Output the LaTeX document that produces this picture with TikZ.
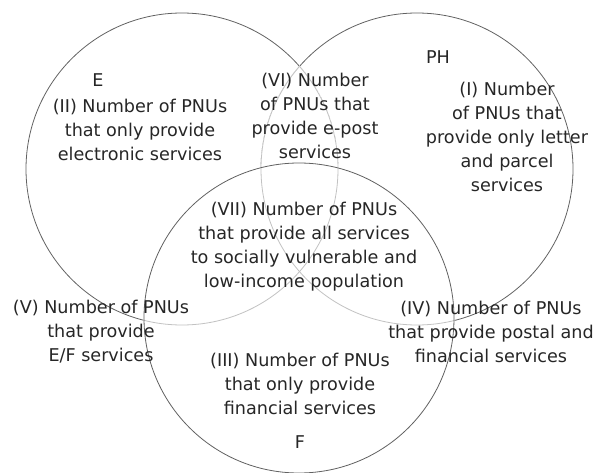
\documentclass[tikz,border=0pt]{standalone}
\usepackage{fontspec}
\setmainfont{DejaVu Sans}

\begin{document}
\begin{tikzpicture}[x=1pt, y=-1pt,
    ring/.style={draw=black!62, line width=0.8pt},
    faint/.style={draw=black!24, line width=0.8pt},
    lbl/.style={align=center, inner sep=0pt, text=black!85,
        font=\fontsize{17.6}{24}\selectfont}]
    \useasboundingbox (0,0) rectangle (602,473);

    % Define the centres of the three sets
    \coordinate (E)  at (182,169);
    \coordinate (PH) at (417,169);
    \coordinate (F)  at (299,318);

    % Draw the circles for E and PH
    \draw[ring] (E)  circle[radius=156pt];
    \draw[ring] (PH) circle[radius=156pt];

    % Fade both arcs inside the E/PH overlap
    \begin{scope}
        \clip (E)  circle[radius=156.6pt];
        \clip (PH) circle[radius=156.6pt];
        \fill[white] (0,0) rectangle (602,473);
        \draw[faint] (E)  circle[radius=156pt];
        \draw[faint] (PH) circle[radius=156pt];
    \end{scope}

    % F goes on top, fading what lies under it
    \fill[white] (F) circle[radius=155.6pt];
    \begin{scope}
        \clip (F) circle[radius=155.6pt];
        \draw[faint] (E)  circle[radius=156pt];
        \draw[faint] (PH) circle[radius=156pt];
    \end{scope}
    \draw[ring] (F) circle[radius=155pt];

    % Set names
    \node[lbl] (nameE)  at (98,80)   {E};
    \node[lbl] (namePH) at (438,57)  {PH};
    \node[lbl] (nameF)  at (300,442) {F};

    % Region texts
    \node[lbl] (regI)   at (507,137) {(I) Number\\of PNUs that\\provide only letter\\and parcel\\services};
    \node[lbl] (regII)  at (140,130) {(II) Number of PNUs\\that only provide\\electronic services};
    \node[lbl] (regIII) at (300,384) {(III) Number of PNUs\\that only provide\\financial services};
    \node[lbl] (regIV)  at (491,332) {(IV) Number of PNUs\\that provide postal and\\financial services};
    \node[lbl] (regV)   at (101,332) {(V) Number of PNUs\\that provide\\E/F services};
    \node[lbl] (regVI)  at (315,116) {(VI) Number\\of PNUs that\\provide e-post\\services};
    \node[lbl] (regVII) at (304,247) {(VII) Number of PNUs\\that provide all services\\to socially vulnerable and\\low-income population};

\end{tikzpicture}
\end{document}
